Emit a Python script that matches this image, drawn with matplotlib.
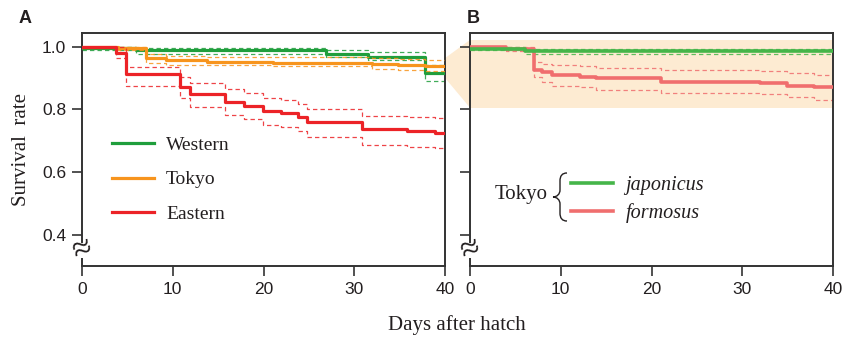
import matplotlib
matplotlib.use("Agg")
import matplotlib.pyplot as plt
from matplotlib.path import Path
from matplotlib.patches import PathPatch, Polygon
from matplotlib.lines import Line2D

# ---------------- data ----------------
# Panel A
west_t = [0, 6.0, 26.9, 31.5, 37.8, 40]
west_s = [0.994, 0.988, 0.975, 0.968, 0.915, 0.915]
west_hi = [1.000, 0.996, 0.988, 0.982, 0.940, 0.940]
west_lo = [0.990, 0.976, 0.966, 0.958, 0.891, 0.891]

tokyo_t = [0, 4.0, 7.1, 9.3, 13.8, 21.0, 32.0, 34.8, 37.8, 40]
tokyo_s = [1.000, 0.995, 0.962, 0.956, 0.952, 0.948, 0.944, 0.941, 0.938, 0.938]
tokyo_hi = [1.000, 1.000, 0.975, 0.970, 0.968, 0.966, 0.962, 0.960, 0.958, 0.958]
tokyo_lo = [1.000, 0.990, 0.948, 0.942, 0.940, 0.937, 0.929, 0.926, 0.922, 0.922]

east_t = [0, 3.8, 4.8, 10.8, 11.9, 15.8, 17.9, 19.9, 21.9, 23.8, 24.8, 30.8, 35.8, 38.9, 40]
east_s = [1.000, 0.980, 0.912, 0.871, 0.850, 0.824, 0.812, 0.796, 0.787, 0.775, 0.760,
          0.737, 0.730, 0.725, 0.725]
east_hi = [1.000, 1.000, 0.934, 0.902, 0.885, 0.864, 0.851, 0.835, 0.830, 0.817, 0.800,
           0.780, 0.775, 0.771, 0.771]
east_lo = [1.000, 0.962, 0.874, 0.835, 0.806, 0.782, 0.768, 0.750, 0.743, 0.731, 0.713,
           0.686, 0.681, 0.676, 0.676]

# Panel B
jap_t = [0, 6.1, 40]
jap_s = [0.992, 0.987, 0.987]
jap_hi = [0.997, 0.993, 0.993]
jap_lo = [0.990, 0.976, 0.976]

form_t = [0, 4.0, 7.0, 7.9, 9.0, 12.1, 13.9, 21.1, 32.0, 34.9, 37.9, 40]
form_s = [0.997, 0.993, 0.925, 0.918, 0.909, 0.904, 0.899, 0.888, 0.885, 0.875, 0.870, 0.870]
form_hi = [1.000, 1.000, 0.950, 0.943, 0.941, 0.937, 0.932, 0.926, 0.923, 0.917, 0.910, 0.910]
form_lo = [0.996, 0.986, 0.903, 0.886, 0.875, 0.870, 0.861, 0.851, 0.848, 0.838, 0.829, 0.829]

band_lo, band_hi = 0.805, 1.021      # highlighted range in panel B
zoom_lo, zoom_hi = 0.900, 0.963      # wedge origin at right edge of panel A

xticks = [0, 10, 20, 30, 40]
yticks = [0.4, 0.6, 0.8, 1.0]
ytick_labels = ["0.4", "0.6", "0.8", "1.0"]

# ---------------- style ----------------
W, H = 843, 340
C_WEST = "#1f9e3c"
C_TOKYO = "#f7941d"
C_EAST = "#ec2327"
C_JAP = "#45b549"
C_FORM = "#f06e6e"
C_BAND = "#fdebd2"
C_AX = "#333333"
C_TXT = "#231f20"
SANS = ["Liberation Sans", "DejaVu Sans"]
SERIF = ["Liberation Serif", "DejaVu Serif"]

fig = plt.figure(figsize=(W / 100, H / 100), dpi=100)

def ax_rect(x0, x1, y0, y1):
    return [x0 / W, 1 - y1 / H, (x1 - x0) / W, (y1 - y0) / H]

axA = fig.add_axes(ax_rect(82, 445, 33, 266))
axB = fig.add_axes(ax_rect(470, 833, 33, 266))

YMIN, YMAX = 0.301, 1.043
brk_lo, brk_hi = 0.328, 0.377

for ax in (axA, axB):
    ax.set_xlim(0, 40)
    ax.set_ylim(YMIN, YMAX)
    ax.set_xticks(xticks)
    ax.set_yticks(yticks)
    for sp in ax.spines.values():
        sp.set_color(C_AX)
        sp.set_linewidth(1.4)
    ax.spines["left"].set_bounds(brk_hi, YMAX)
    ax.plot([0, 0], [YMIN, brk_lo], color=C_AX, lw=1.4, clip_on=False,
            transform=ax.get_yaxis_transform(), solid_capstyle="butt")
    ax.text(0, (brk_lo + brk_hi) / 2, "≈", transform=ax.get_yaxis_transform(),
            ha="center", va="center", fontsize=25, color=C_TXT, rotation=20,
            family=SERIF)
    ax.tick_params(direction="out", length=7.5, width=1.2, color=C_AX,
                   labelsize=12.5, labelcolor=C_TXT, pad=4)
    for lab in ax.get_xticklabels() + ax.get_yticklabels():
        lab.set_family(SANS)

axA.set_yticklabels(ytick_labels)
axB.set_yticklabels([])

def km(ax, t, s, hi, lo, color, lw=2.3, z=3, dash_alpha=0.85):
    ax.step(t, hi, where="post", color=color, lw=0.9, ls=(0, (3.5, 2.5)),
            alpha=dash_alpha, zorder=z - 1)
    ax.step(t, lo, where="post", color=color, lw=0.9, ls=(0, (3.5, 2.5)),
            alpha=dash_alpha, zorder=z - 1)
    ln, = ax.step(t, s, where="post", color=color, lw=lw, zorder=z)
    return ln

lW = km(axA, west_t, west_s, west_hi, west_lo, C_WEST, z=3)
lT = km(axA, tokyo_t, tokyo_s, tokyo_hi, tokyo_lo, C_TOKYO, z=4)
lE = km(axA, east_t, east_s, east_hi, east_lo, C_EAST, z=5)

axB.axhspan(band_lo, band_hi, color=C_BAND, lw=0, zorder=0)
lJ = km(axB, jap_t, jap_s, jap_hi, jap_lo, C_JAP, lw=2.6, z=4)
lF = km(axB, form_t, form_s, form_hi, form_lo, C_FORM, lw=2.6, z=3)

# legend A
legA = axA.legend([lW, lT, lE], ["Western", "Tokyo", "Eastern"],
                  loc="center left", bbox_to_anchor=((111.7 - 82) / 363, (266 - 179.5) / 233),
                  frameon=False, borderpad=0, borderaxespad=0,
                  handlelength=2.15, handletextpad=0.65, labelspacing=0.88,
                  prop={"family": SERIF, "size": 14})
for t in legA.get_texts():
    t.set_color(C_TXT)

# legend B
legB = axB.legend([Line2D([], [], color=C_JAP, lw=2.6), Line2D([], [], color=C_FORM, lw=2.6)],
                  ["japonicus", "formosus"],
                  loc="center left", bbox_to_anchor=((571 - 470) / 363, (266 - 199.5) / 233),
                  frameon=False, borderpad=0, borderaxespad=0,
                  handlelength=2.1, handletextpad=0.6, labelspacing=0.36,
                  prop={"family": SERIF, "size": 14.5, "style": "italic"})
for t in legB.get_texts():
    t.set_color(C_TXT)

fig.text(521 / W, 1 - 195 / H, "Tokyo", ha="center", va="center",
         family=SERIF, fontsize=15, color=C_TXT)

# brace
def P(x, y):
    return (x / W, 1 - y / H)
verts = [P(567, 173), P(562, 173), P(560, 176), P(560, 181),
         P(560, 190),
         P(560, 194), P(557, 197), P(553, 197),
         P(557, 197), P(560, 200), P(560, 204),
         P(560, 213),
         P(560, 218), P(562, 221), P(567, 221)]
codes = [Path.MOVETO, Path.CURVE4, Path.CURVE4, Path.CURVE4,
         Path.LINETO,
         Path.CURVE4, Path.CURVE4, Path.CURVE4,
         Path.CURVE4, Path.CURVE4, Path.CURVE4,
         Path.LINETO,
         Path.CURVE4, Path.CURVE4, Path.CURVE4]
fig.add_artist(PathPatch(Path(verts, codes), transform=fig.transFigure,
                         fill=False, lw=1.0, color=C_TXT))

# wedge connecting panels
fig.canvas.draw()
inv = fig.transFigure.inverted()
pA1 = inv.transform(axA.transData.transform((40, zoom_hi)))
pA2 = inv.transform(axA.transData.transform((40, zoom_lo)))
pB1 = inv.transform(axB.transData.transform((0, band_hi)))
pB2 = inv.transform(axB.transData.transform((0, band_lo)))
wedge = Polygon([pA1, pB1, pB2, pA2], closed=True, transform=fig.transFigure,
                facecolor=C_BAND, edgecolor="none", zorder=-1)
fig.add_artist(wedge)

# labels
axA.set_ylabel("Survival  rate", family=SERIF, fontsize=15, color=C_TXT, labelpad=8)
fig.text(457 / W, 1 - 325 / H, "Days after hatch", ha="center", va="center",
         family=SERIF, fontsize=15, color=C_TXT)
fig.text(25 / W, 1 - 18.5 / H, "A", ha="center", va="center", family=SANS,
         fontsize=13, fontweight="bold", color=C_TXT)
fig.text(473 / W, 1 - 18.5 / H, "B", ha="center", va="center", family=SANS,
         fontsize=13, fontweight="bold", color=C_TXT)

fig.savefig("out.png", dpi=100)
